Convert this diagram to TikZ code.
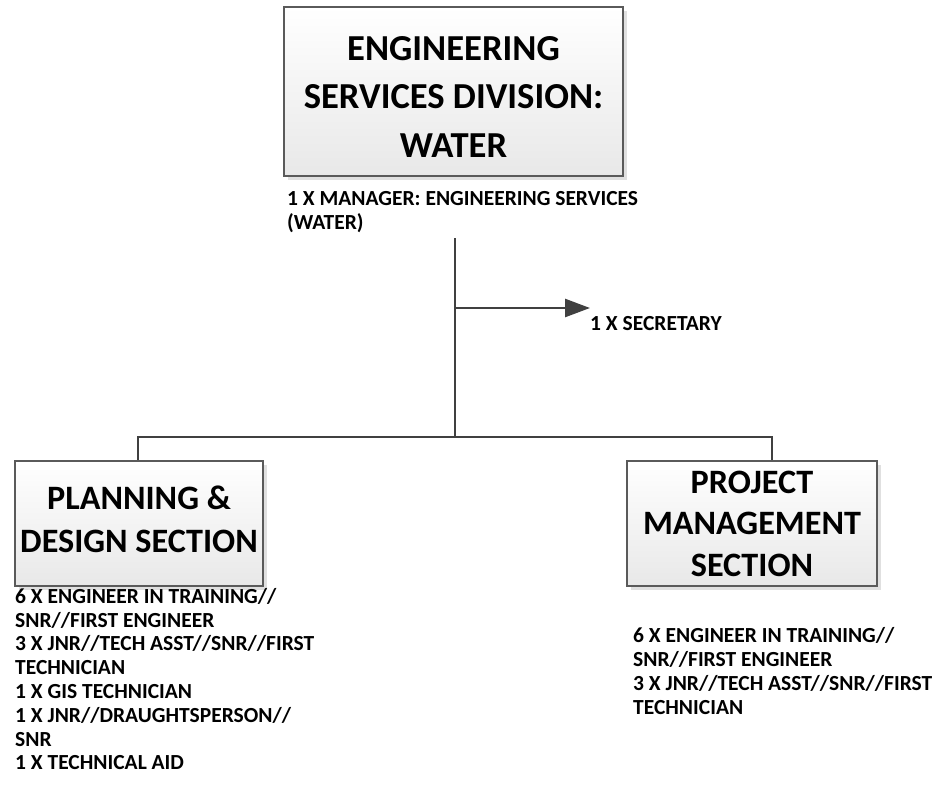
\documentclass[tikz,border=0pt]{standalone}
\usepackage{fontspec}
\setmainfont{Carlito}
\usetikzlibrary{shadows,arrows.meta}
\definecolor{linegray}{HTML}{404040}
\definecolor{boxedge}{HTML}{5A5A5A}
\tikzset{
  orgbox/.style={draw=boxedge, line width=1.4pt, top color=white, bottom color=black!9,
    drop shadow={shadow xshift=4pt, shadow yshift=-4pt, fill=black!12, opacity=1},
    align=center, font=\bfseries, inner sep=0pt},
  staff/.style={align=left, anchor=north west, inner sep=0pt, font=\bfseries\fontsize{21.5}{23.8}\selectfont},
  conn/.style={draw=linegray, line width=2.6pt}
}
\begin{document}
\begin{tikzpicture}[x=1pt,y=-1pt]
\useasboundingbox (0,0) rectangle (934,787);
\node[orgbox, minimum width=339pt, minimum height=169pt, font=\bfseries\fontsize{36.6}{48.5}\selectfont] (esd) at (453.5,91.5) {\rule{0pt}{34pt}ENGINEERING\\SERVICES DIVISION:\\WATER};
\node[orgbox, minimum width=248pt, minimum height=125pt, font=\bfseries\fontsize{34.2}{43}\selectfont] (pds) at (139,523.5) {PLANNING \&\\DESIGN SECTION\rule[-8pt]{0pt}{8pt}};
\node[orgbox, minimum width=250pt, minimum height=125pt, font=\bfseries\fontsize{34.2}{41.5}\selectfont] (pms) at (752,523.5) {PROJECT\\MANAGEMENT\\SECTION};
\node[staff] (mgr) at (287,191.5) {1 X MANAGER: ENGINEERING SERVICES\\(WATER)};
\node[staff] (sec) at (590,316.5) {1 X SECRETARY};
\node[staff] (pdsstaff) at (15,588) {6 X ENGINEER IN TRAINING//\\SNR//FIRST ENGINEER\\3 X JNR//TECH ASST//SNR//FIRST\\TECHNICIAN\\1 X GIS TECHNICIAN\\1 X JNR//DRAUGHTSPERSON//\\SNR\\1 X TECHNICAL AID};
\node[staff] (pmsstaff) at (633,627.5) {6 X ENGINEER IN TRAINING//\\SNR//FIRST ENGINEER\\3 X JNR//TECH ASST//SNR//FIRST\\TECHNICIAN};
\coordinate (trunktop) at (455,238);
\coordinate (branch) at (455,308);
\coordinate (arrowend) at (590,308);
\coordinate (bus) at (455,437);
\coordinate (busL) at (138,437);
\coordinate (busR) at (772,437);
\draw[conn] (trunktop) -- (bus);
\draw[conn, -{Triangle[length=25pt,width=18pt]}] (branch) -- (arrowend);
\draw[conn, line cap=rect] (busL) -- (busR);
\draw[conn] (busL) -- (busL |- pds.north);
\draw[conn] (busR) -- (busR |- pms.north);
\end{tikzpicture}
\end{document}
